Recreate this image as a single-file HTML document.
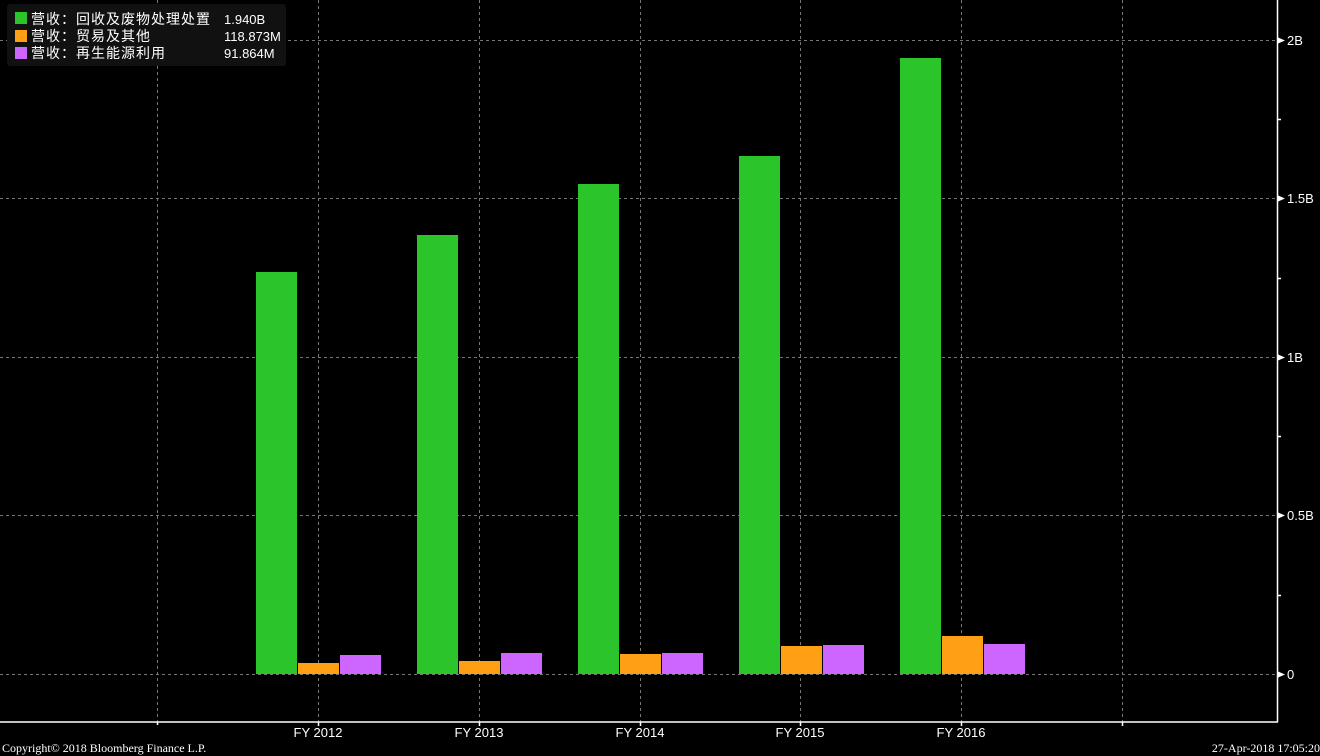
<!DOCTYPE html>
<html><head><meta charset="utf-8"><style>
html,body{margin:0;padding:0;background:#000;width:1320px;height:756px;overflow:hidden}
svg{display:block}
text{font-family:"Liberation Sans","Noto Sans CJK SC",sans-serif;fill:#fff}
</style></head><body>
<svg width="1320" height="756" viewBox="0 0 1320 756">
<g stroke="#777" stroke-width="1" stroke-dasharray="3,3" fill="none">
<line x1="0" y1="40.5" x2="1277" y2="40.5"/>
<line x1="0" y1="198.5" x2="1277" y2="198.5"/>
<line x1="0" y1="357.5" x2="1277" y2="357.5"/>
<line x1="0" y1="515.5" x2="1277" y2="515.5"/>
<line x1="0" y1="674.5" x2="1277" y2="674.5"/>
<line x1="157.5" y1="0" x2="157.5" y2="722"/>
<line x1="318.5" y1="0" x2="318.5" y2="722"/>
<line x1="479.5" y1="0" x2="479.5" y2="722"/>
<line x1="640.5" y1="0" x2="640.5" y2="722"/>
<line x1="800.5" y1="0" x2="800.5" y2="722"/>
<line x1="961.5" y1="0" x2="961.5" y2="722"/>
<line x1="1122.5" y1="0" x2="1122.5" y2="722"/>
</g>
<g>
<rect x="256" y="272" width="41" height="402" fill="#2bc52b"/>
<rect x="298" y="663" width="41" height="11" fill="#ff9f14"/>
<rect x="340" y="655" width="41" height="19" fill="#cc66ff"/>
<rect x="417" y="235" width="41" height="439" fill="#2bc52b"/>
<rect x="459" y="661" width="41" height="13" fill="#ff9f14"/>
<rect x="501" y="653" width="41" height="21" fill="#cc66ff"/>
<rect x="578" y="184" width="41" height="490" fill="#2bc52b"/>
<rect x="620" y="654" width="41" height="20" fill="#ff9f14"/>
<rect x="662" y="653" width="41" height="21" fill="#cc66ff"/>
<rect x="739" y="156" width="41" height="518" fill="#2bc52b"/>
<rect x="781" y="646" width="41" height="28" fill="#ff9f14"/>
<rect x="823" y="645" width="41" height="29" fill="#cc66ff"/>
<rect x="900" y="58" width="41" height="616" fill="#2bc52b"/>
<rect x="942" y="636" width="41" height="38" fill="#ff9f14"/>
<rect x="984" y="644" width="41" height="30" fill="#cc66ff"/>
</g>
<g stroke="#fff" stroke-width="1.5">
<line x1="0" y1="722" x2="1278" y2="722"/>
<line x1="1277.5" y1="0" x2="1277.5" y2="722"/>
<line x1="157.5" y1="722" x2="157.5" y2="725"/>
<line x1="318.5" y1="722" x2="318.5" y2="726"/>
<line x1="479.5" y1="722" x2="479.5" y2="726"/>
<line x1="640.5" y1="722" x2="640.5" y2="726"/>
<line x1="800.5" y1="722" x2="800.5" y2="726"/>
<line x1="961.5" y1="722" x2="961.5" y2="726"/>
<line x1="1122.5" y1="722" x2="1122.5" y2="726"/>
<line x1="1277" y1="119.5" x2="1281" y2="119.5"/>
<line x1="1277" y1="278.5" x2="1281" y2="278.5"/>
<line x1="1277" y1="436.5" x2="1281" y2="436.5"/>
<line x1="1277" y1="595.5" x2="1281" y2="595.5"/>
</g>
<g fill="#fff">
<polygon points="1277,37 1285,40.5 1277,44"/>
<polygon points="1277,195 1285,198.5 1277,202"/>
<polygon points="1277,354 1285,357.5 1277,361"/>
<polygon points="1277,512 1285,515.5 1277,519"/>
<polygon points="1277,671 1285,674.5 1277,678"/>
</g>
<g font-size="13">
<text x="1287" y="45">2B</text>
<text x="1287" y="203">1.5B</text>
<text x="1287" y="362">1B</text>
<text x="1287" y="520">0.5B</text>
<text x="1287" y="679">0</text>
</g>
<g font-size="13" text-anchor="middle">
<text x="318" y="737">FY 2012</text>
<text x="479" y="737">FY 2013</text>
<text x="640" y="737">FY 2014</text>
<text x="800" y="737">FY 2015</text>
<text x="961" y="737">FY 2016</text>
</g>
<text x="2" y="752" font-size="12" style="font-family:'Liberation Serif',serif">Copyright© 2018 Bloomberg Finance L.P.</text>
<text x="1320" y="752" font-size="12" text-anchor="end" style="font-family:'Liberation Serif',serif">27-Apr-2018 17:05:20</text>
<rect x="7" y="4" width="279" height="62" rx="3" fill="#111"/>
<rect x="15" y="12" width="12" height="12" fill="#2bc52b"/>
<rect x="15" y="30" width="12" height="12" fill="#ff9f14"/>
<rect x="15" y="47" width="12" height="12" fill="#cc66ff"/>
<g font-size="14">
<text x="31" y="24" letter-spacing="1">营收：回收及废物处理处置</text>
<text x="31" y="41" letter-spacing="1">营收：贸易及其他</text>
<text x="31" y="58" letter-spacing="1">营收：再生能源利用</text>
<text x="224" y="24" font-size="13">1.940B</text>
<text x="224" y="41" font-size="13">118.873M</text>
<text x="224" y="58" font-size="13">91.864M</text>
</g>
</svg>
</body></html>
